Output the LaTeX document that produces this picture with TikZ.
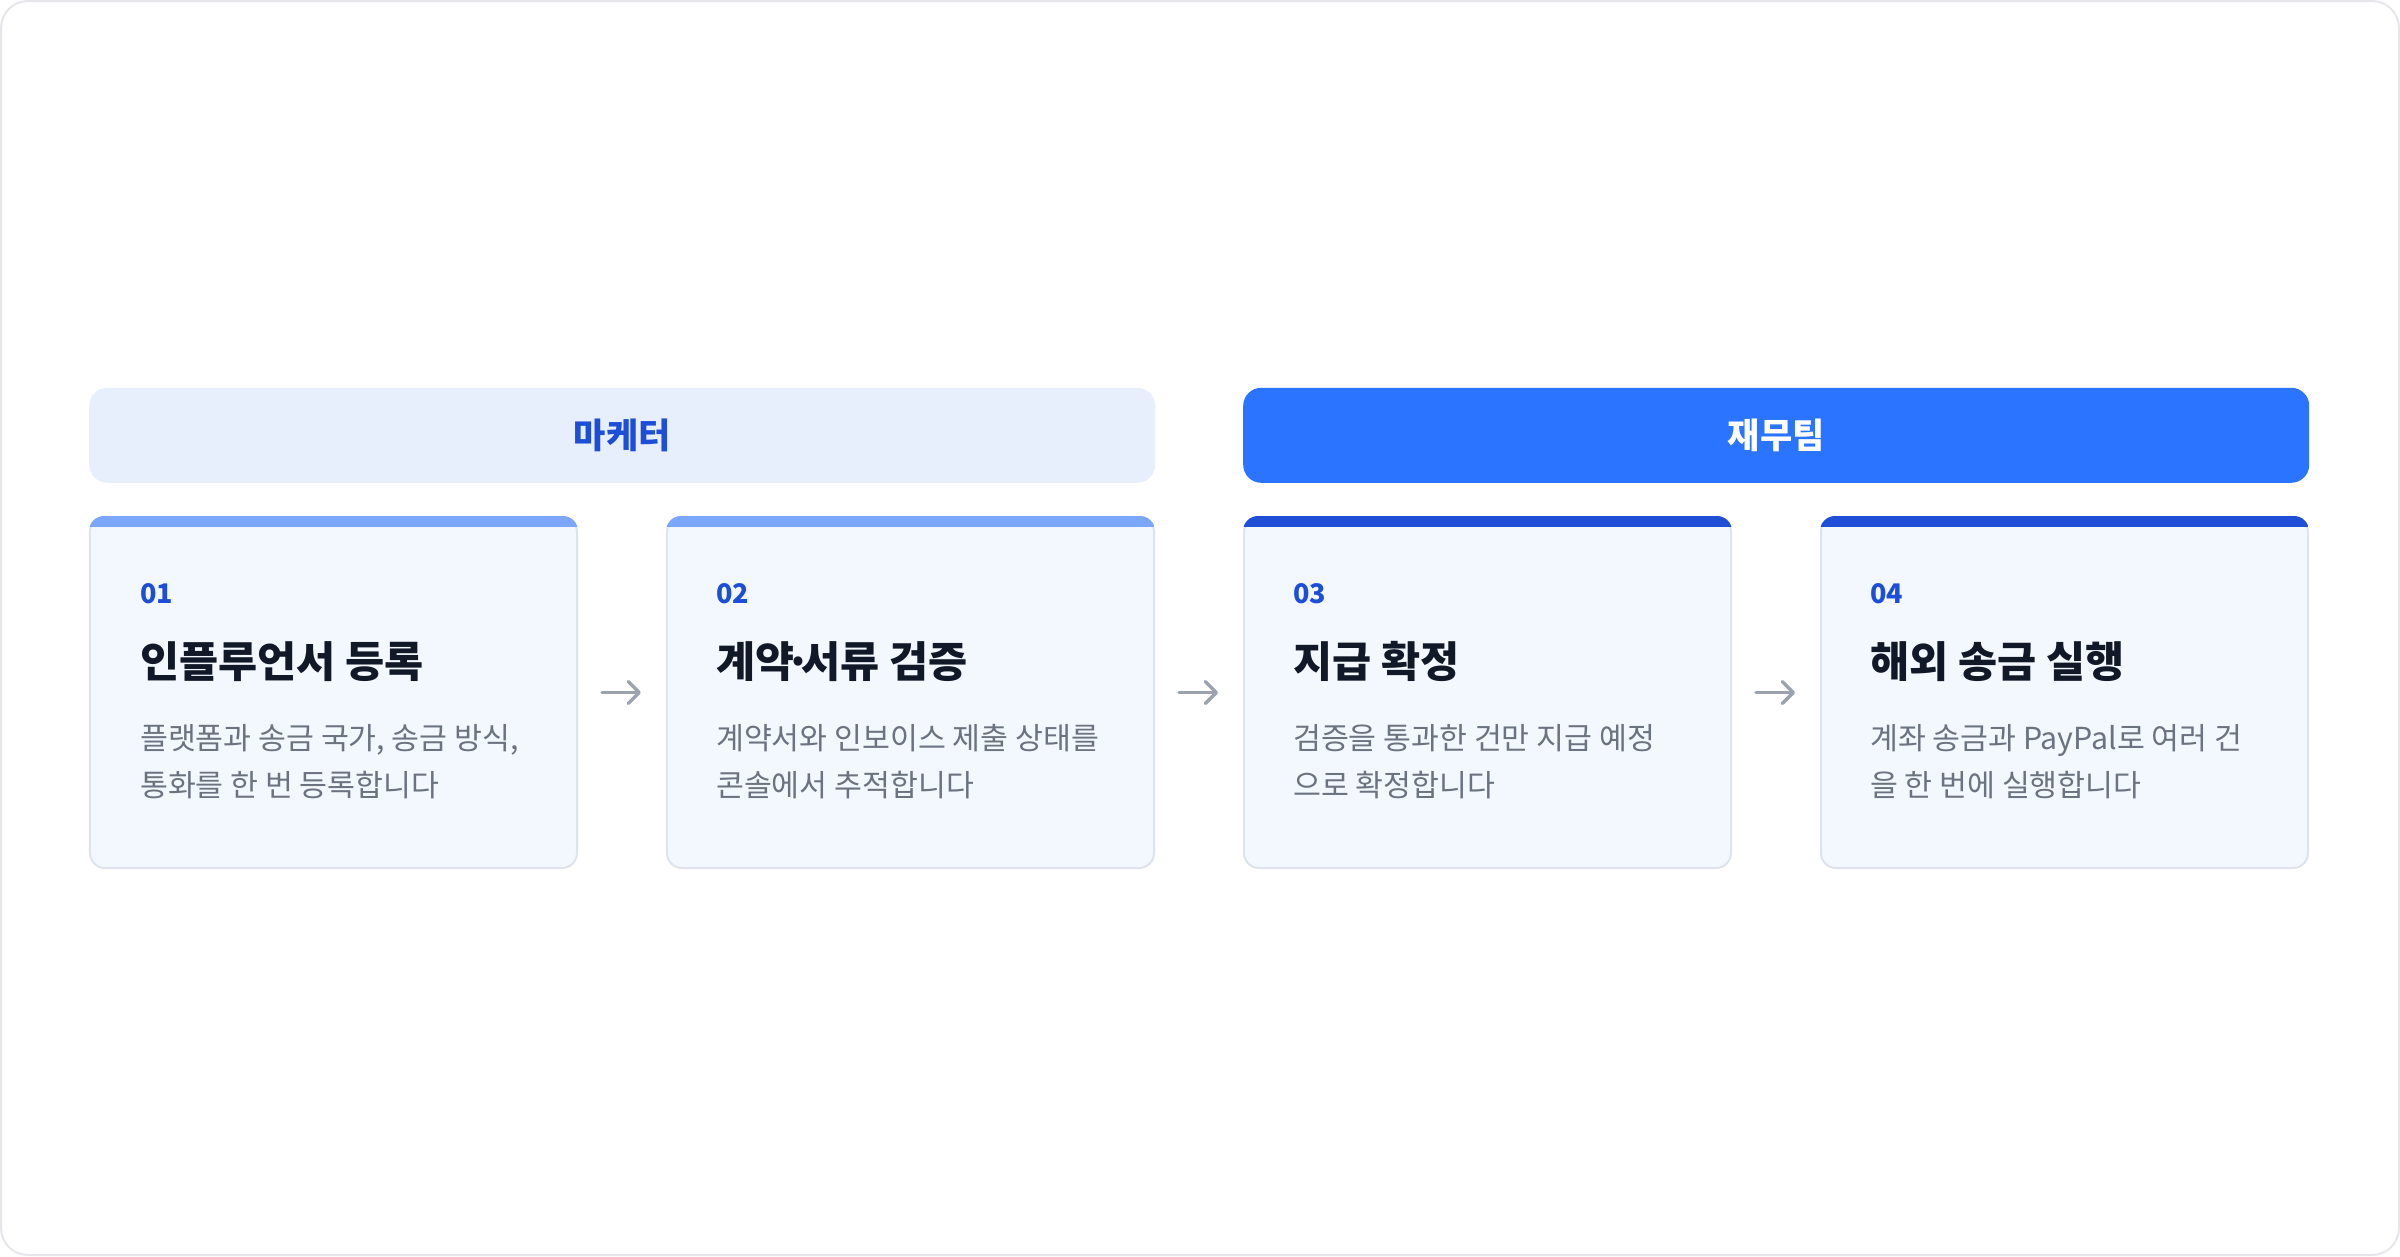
\documentclass[tikz,border=0pt]{standalone}
\usepackage{fontspec}
\setmainfont{Noto Sans CJK KR}
\usetikzlibrary{positioning,arrows.meta}
\definecolor{framegray}{HTML}{E5E7EB}
\definecolor{headlight}{HTML}{E8EFFC}
\definecolor{headblue}{HTML}{1D4ED8}
\definecolor{headdark}{HTML}{2B74FF}
\definecolor{cardfill}{HTML}{F3F7FE}
\definecolor{cardline}{HTML}{DFE3EB}
\definecolor{barlight}{HTML}{7BA6F9}
\definecolor{bardark}{HTML}{1E4FD6}
\definecolor{titleink}{HTML}{111827}
\definecolor{descgray}{HTML}{6B7280}
\definecolor{arrowgray}{HTML}{9CA3AF}
\newcommand{\tightdot}{\kern-0.22em·\kern-0.22em}
\tikzset{
	card/.style={draw=cardline,fill=cardfill,line width=2pt,rounded corners=15pt,minimum width=487pt,minimum height=351pt,inner sep=0pt},
	team/.style={rounded corners=18pt,minimum width=1066pt,minimum height=95pt,inner sep=0pt,font=\fontsize{35}{40}\selectfont\bfseries},
	stepnum/.style={anchor=base west,inner sep=0pt,text=headblue,font=\fontsize{27}{30}\selectfont\bfseries},
	steptitle/.style={anchor=base west,inner sep=0pt,text=titleink,font=\fontsize{42.5}{48}\selectfont\bfseries},
	stepdesc/.style={anchor=base west,inner sep=0pt,align=left,text=descgray,font=\fontsize{30.3}{47}\selectfont},
	flow/.style={draw=arrowgray,line width=3.5pt,line cap=round,-{Straight Barb[length=11pt,width=22pt,round]},shorten <=24pt,shorten >=25pt}
}

\begin{document}
\begin{tikzpicture}[x=1pt,y=-1pt]
\useasboundingbox (0,0) rectangle (2400,1256);
\draw[framegray,line width=2pt,rounded corners=27pt] (1,1) rectangle (2399,1255);

\matrix (m) [column sep=88pt,inner sep=0pt] at (1199,692.5)
{
	\node[card] (c1) {}; & \node[card] (c2) {}; & \node[card] (c3) {}; & \node[card] (c4) {}; \\
};
\foreach \c/\col in {c1/barlight,c2/barlight,c3/bardark,c4/bardark}{
	\begin{scope}
		\clip[rounded corners=15pt] (\c.north west) rectangle (\c.south east);
		\fill[\col] (\c.north west) rectangle ([yshift=-11pt]\c.north east);
	\end{scope}
}

\node[team,fill=headlight,text=headblue,above=33pt of c1.north west,anchor=south west] (mkt) {마케터};
\node[team,fill=headdark,text=white,above=33pt of c3.north west,anchor=south west] (fin) {재무팀};

% second line of each text is its base
\node[stepnum] (n1) at ([shift={(51,87)}]c1.north west) {01};
\node[steptitle] (t1) at ([shift={(51,161)}]c1.north west) {인플루언서 등록};
\node[stepdesc] (d1) at ([shift={(51,280)}]c1.north west) {플랫폼과 송금 국가, 송금 방식,\\통화를 한 번 등록합니다};

\node[stepnum] (n2) at ([shift={(50,87)}]c2.north west) {02};
\node[steptitle] (t2) at ([shift={(50,161)}]c2.north west) {계약\tightdot 서류 검증};
\node[stepdesc] (d2) at ([shift={(50,280)}]c2.north west) {계약서와 인보이스 제출 상태를\\콘솔에서 추적합니다};

\node[stepnum] (n3) at ([shift={(50,87)}]c3.north west) {03};
\node[steptitle] (t3) at ([shift={(50,161)}]c3.north west) {지급 확정};
\node[stepdesc] (d3) at ([shift={(50,280)}]c3.north west) {검증을 통과한 건만 지급 예정\\으로 확정합니다};

\node[stepnum] (n4) at ([shift={(50,87)}]c4.north west) {04};
\node[steptitle] (t4) at ([shift={(50,161)}]c4.north west) {해외 송금 실행};
\node[stepdesc] (d4) at ([shift={(50,280)}]c4.north west) {계좌 송금과 PayPal로 여러 건\\을 한 번에 실행합니다};

\path[flow]
(c1) edge (c2)
(c2) edge (c3)
(c3) edge (c4);

\end{tikzpicture}
\end{document}
